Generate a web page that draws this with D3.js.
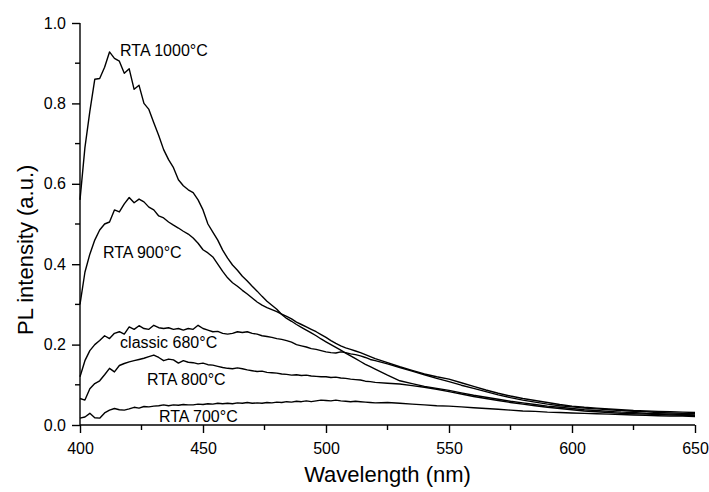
<!DOCTYPE html>
<html>
<head>
<meta charset="utf-8">
<script src="https://cdn.jsdelivr.net/npm/d3@7/dist/d3.min.js"></script>
<style>
  html, body { margin: 0; padding: 0; background: #fff; }
  svg { display: block; font-family: "Liberation Sans", Arial, sans-serif; }
  .axis path, .axis line { stroke: #000; stroke-width: 1.4; }
  .axis text { font-size: 16px; fill: #000; }
  .curve { fill: none; stroke: #000; stroke-width: 1.4; stroke-linejoin: round; }
  .lbl { font-size: 16px; fill: #000; }
  .title { font-size: 22px; fill: #000; }
</style>
</head>
<body>
<svg id="chart" width="709" height="492"></svg>
<script>
// ── PL spectra ──
var wavelength = [
  400, 402, 404, 406, 408, 410, 412, 414, 416, 418, 420, 422, 424, 426, 428, 430,
  432, 434, 436, 438, 440, 442, 444, 446, 448, 450, 452, 454, 456, 458, 460, 462,
  464, 466, 468, 470, 472, 474, 476, 478, 480, 482, 484, 486, 488, 490, 492, 494,
  496, 498, 500, 502, 504, 506, 508, 510, 512, 514, 516, 518, 520,
  525, 530, 535, 540, 545, 550, 555, 560, 565, 570, 575, 580, 585, 590, 595, 600,
  605, 610, 615, 620, 625, 630, 635, 640, 645, 650
];

var rta1000 = [
  0.56, 0.69, 0.78, 0.86, 0.862, 0.89, 0.928, 0.912, 0.905, 0.875, 0.886, 0.835, 0.845, 0.80, 0.785, 0.752,
  0.72, 0.685, 0.66, 0.64, 0.61, 0.595, 0.585, 0.578, 0.56, 0.535, 0.50, 0.48, 0.46, 0.435, 0.415, 0.398,
  0.385, 0.37, 0.358, 0.345, 0.333, 0.32, 0.308, 0.298, 0.288, 0.275, 0.265, 0.258, 0.25, 0.243, 0.236, 0.229,
  0.222, 0.214, 0.207, 0.2, 0.193, 0.186, 0.179, 0.172, 0.165, 0.158, 0.151, 0.145, 0.139,
  0.124, 0.11, 0.103, 0.096, 0.091, 0.086, 0.08, 0.074, 0.069, 0.064, 0.059, 0.055, 0.051, 0.047, 0.044, 0.041,
  0.038, 0.036, 0.034, 0.032, 0.031, 0.029, 0.028, 0.027, 0.026, 0.025
];

var rta900 = [
  0.30, 0.38, 0.425, 0.46, 0.485, 0.50, 0.505, 0.535, 0.53, 0.55, 0.566, 0.553, 0.562, 0.555, 0.542, 0.535,
  0.52, 0.515, 0.505, 0.497, 0.49, 0.482, 0.475, 0.465, 0.452, 0.436, 0.428, 0.418, 0.40, 0.382, 0.366, 0.354,
  0.345, 0.335, 0.326, 0.316, 0.306, 0.298, 0.292, 0.287, 0.282, 0.276, 0.27, 0.264, 0.256, 0.25, 0.244, 0.238,
  0.232, 0.225, 0.218, 0.21, 0.203, 0.197, 0.192, 0.188, 0.184, 0.18, 0.175, 0.17, 0.165,
  0.155, 0.145, 0.136, 0.127, 0.12, 0.114, 0.105, 0.096, 0.087, 0.079, 0.072, 0.066, 0.061, 0.056, 0.051, 0.047,
  0.044, 0.042, 0.04, 0.038, 0.036, 0.035, 0.034, 0.033, 0.032, 0.031
];

var classic680 = [
  0.12, 0.16, 0.185, 0.20, 0.21, 0.222, 0.215, 0.228, 0.232, 0.226, 0.244, 0.238, 0.247, 0.24, 0.238, 0.248,
  0.242, 0.24, 0.242, 0.238, 0.24, 0.236, 0.24, 0.238, 0.248, 0.24, 0.236, 0.232, 0.233, 0.228, 0.226, 0.228,
  0.232, 0.23, 0.232, 0.228, 0.226, 0.222, 0.22, 0.218, 0.215, 0.213, 0.21, 0.206, 0.20, 0.197, 0.194, 0.19,
  0.188, 0.185, 0.182, 0.18, 0.179, 0.182, 0.18, 0.177, 0.175, 0.172, 0.168, 0.163, 0.16,
  0.152, 0.143, 0.134, 0.125, 0.116, 0.108, 0.099, 0.091, 0.083, 0.075, 0.068, 0.062, 0.057, 0.052, 0.048, 0.045,
  0.042, 0.04, 0.038, 0.036, 0.034, 0.033, 0.031, 0.03, 0.029, 0.028
];

var rta800 = [
  0.066, 0.062, 0.09, 0.103, 0.11, 0.125, 0.141, 0.132, 0.148, 0.153, 0.157, 0.16, 0.163, 0.166, 0.17, 0.174,
  0.168, 0.16, 0.164, 0.162, 0.154, 0.16, 0.156, 0.155, 0.152, 0.154, 0.15, 0.149, 0.146, 0.143, 0.141, 0.14,
  0.142, 0.14, 0.137, 0.135, 0.133, 0.134, 0.131, 0.13, 0.129, 0.127, 0.126, 0.124, 0.125, 0.123, 0.124, 0.122,
  0.121, 0.12, 0.12, 0.118, 0.119, 0.117, 0.116, 0.114, 0.113, 0.112, 0.109, 0.108, 0.106,
  0.104, 0.102, 0.098, 0.094, 0.089, 0.083, 0.077, 0.071, 0.066, 0.061, 0.056, 0.052, 0.048, 0.044, 0.041, 0.038,
  0.035, 0.033, 0.031, 0.029, 0.028, 0.027, 0.026, 0.025, 0.024, 0.023
];

var rta700 = [
  0.017, 0.02, 0.029, 0.018, 0.017, 0.03, 0.037, 0.041, 0.038, 0.037, 0.04, 0.044, 0.042, 0.046, 0.045, 0.047,
  0.048, 0.05, 0.048, 0.05, 0.049, 0.051, 0.05, 0.05, 0.052, 0.051, 0.053, 0.052, 0.054, 0.053, 0.054, 0.053,
  0.055, 0.054, 0.056, 0.054, 0.055, 0.054, 0.056, 0.055, 0.057, 0.056, 0.058, 0.057, 0.059, 0.058, 0.06, 0.058,
  0.06, 0.062, 0.061, 0.06, 0.062, 0.06, 0.059, 0.058, 0.059, 0.058, 0.057, 0.056, 0.055,
  0.056, 0.054, 0.052, 0.05, 0.048, 0.047, 0.045, 0.043, 0.041, 0.039, 0.037, 0.035, 0.034, 0.032, 0.031, 0.03,
  0.029, 0.028, 0.027, 0.026, 0.025, 0.024, 0.023, 0.022, 0.022, 0.021
];

var seriesNames = ['RTA 1000°C', 'RTA 900°C', 'classic 680°C', 'RTA 800°C', 'RTA 700°C'];
var seriesValues = [rta1000, rta900, classic680, rta800, rta700];
// where each curve label sits, in data units (wavelength, intensity of baseline)
var labelWl = [416.3, 409.3, 416.3, 427.2, 432.1];
var labelVal = [0.918, 0.415, 0.192, 0.0995, 0.0075];

var xMajor = [400, 450, 500, 550, 600, 650];
var xMinor = [425, 475, 525, 575, 625];
var yMajor = [0, 0.2, 0.4, 0.6, 0.8, 1.0];
var yMinor = [0.1, 0.3, 0.5, 0.7, 0.9];

(function () {
  'use strict';

  var svg = d3.select('#chart');
  var x = d3.scaleLinear().domain([400, 650]).range([80, 695]);
  var y = d3.scaleLinear().domain([0, 1]).range([425, 23]);

  // ── Axes ──
  var gx = svg.append('g').attr('class', 'axis').attr('transform', 'translate(0,' + y(0) + ')');
  gx.call(d3.axisBottom(x).tickValues(xMajor).tickSize(8).tickPadding(10).tickFormat(d3.format('d')));
  gx.append('g').selectAll('line').data(xMinor).join('line')
    .attr('x1', function (d) { return x(d); }).attr('x2', function (d) { return x(d); })
    .attr('y1', 0).attr('y2', 5).attr('stroke', '#000').attr('stroke-width', 1.4);

  var gy = svg.append('g').attr('class', 'axis').attr('transform', 'translate(' + x(400) + ',0)');
  gy.call(d3.axisLeft(y).tickValues(yMajor).tickSize(8).tickPadding(6).tickFormat(d3.format('.1f')));
  gy.append('g').selectAll('line').data(yMinor).join('line')
    .attr('y1', function (d) { return y(d); }).attr('y2', function (d) { return y(d); })
    .attr('x1', 0).attr('x2', -5).attr('stroke', '#000').attr('stroke-width', 1.4);

  svg.selectAll('.axis .domain').each(function () {
    // strip the outer end ticks d3 adds to the domain path
    var isX = this.parentNode === gx.node();
    d3.select(this).attr('d', isX ? 'M' + x(400) + ',0H' + x(650) : 'M0,' + y(0) + 'V' + y(1));
  });
  svg.selectAll('.axis text').attr('font-family', '"Liberation Sans", Arial, sans-serif');

  // ── Curves ──
  var line = d3.line()
    .x(function (d, i) { return x(wavelength[i]); })
    .y(function (d) { return y(d); });

  svg.append('g').selectAll('path').data(seriesValues).join('path')
    .attr('class', 'curve')
    .attr('d', function (d) { return line(d); });

  // ── Curve labels ──
  svg.append('g').selectAll('text').data(seriesNames).join('text')
    .attr('class', 'lbl')
    .attr('x', function (d, i) { return x(labelWl[i]); })
    .attr('y', function (d, i) { return y(labelVal[i]); })
    .text(function (d) { return d; });

  // ── Titles ──
  svg.append('text').attr('class', 'title')
    .attr('x', (x(400) + x(650)) / 2).attr('y', 482)
    .attr('text-anchor', 'middle')
    .text('Wavelength (nm)');

  svg.append('text').attr('class', 'title')
    .attr('transform', 'translate(33,335) rotate(-90)')
    .attr('text-anchor', 'start')
    .text('PL intensity (a.u.)');
})();
</script>
</body>
</html>
